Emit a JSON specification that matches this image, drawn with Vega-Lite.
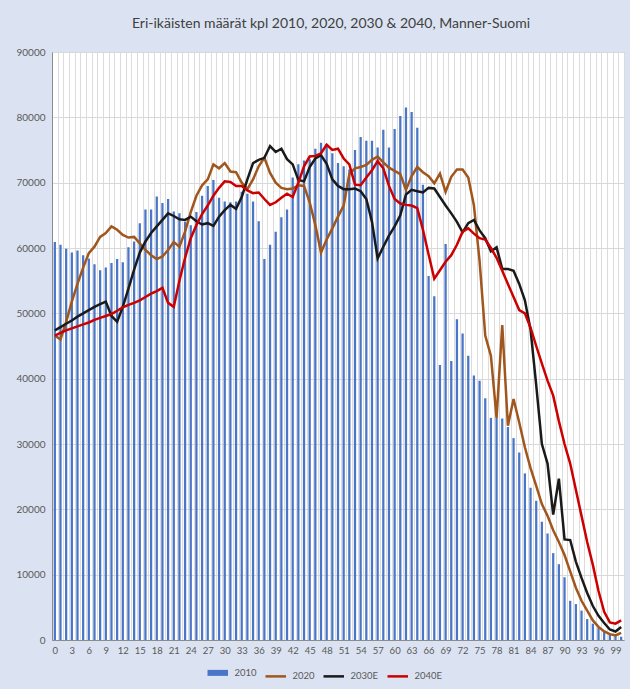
{
  "$schema": "https://vega.github.io/schema/vega-lite/v6.json",
  "width": 572,
  "height": 588,
  "autosize": {"type": "none"},
  "padding": {"left": 52, "top": 52, "right": 6, "bottom": 49},
  "background": "#dbe3f2",
  "config": {
    "view": {"stroke": "#a6a6a6", "fill": "white"},
    "font": "Lato"
  },
  "title": {
    "text": "Eri-ikäisten määrät kpl 2010, 2020, 2030 & 2040, Manner-Suomi",
    "frame": "group",
    "anchor": "middle",
    "offset": 16,
    "dx": -7,
    "font": "Lato",
    "fontSize": 14,
    "fontWeight": "normal",
    "color": "#404040"
  },
  "data": {
    "values": [
      {"age":0,"2010":60900,"2020":46600,"2030E":47400,"2040E":46600},
      {"age":1,"2010":60500,"2020":46000,"2030E":47900,"2040E":47000},
      {"age":2,"2010":59900,"2020":48700,"2030E":48400,"2040E":47400},
      {"age":3,"2010":59300,"2020":51800,"2030E":48900,"2040E":47700},
      {"age":4,"2010":59600,"2020":54500,"2030E":49500,"2040E":48000},
      {"age":5,"2010":58900,"2020":57000,"2030E":50000,"2040E":48300},
      {"age":6,"2010":58400,"2020":59200,"2030E":50500,"2040E":48600},
      {"age":7,"2010":57500,"2020":60200,"2030E":51000,"2040E":49000},
      {"age":8,"2010":56600,"2020":61700,"2030E":51400,"2040E":49300},
      {"age":9,"2010":57000,"2020":62300,"2030E":51800,"2040E":49600},
      {"age":10,"2010":57700,"2020":63300,"2030E":49600,"2040E":49900},
      {"age":11,"2010":58300,"2020":62800,"2030E":48700,"2040E":50400},
      {"age":12,"2010":57800,"2020":62000,"2030E":51000,"2040E":50900},
      {"age":13,"2010":60100,"2020":61600,"2030E":53800,"2040E":51300},
      {"age":14,"2010":61000,"2020":61700,"2030E":56700,"2040E":51600},
      {"age":15,"2010":63800,"2020":60700,"2030E":59300,"2040E":52000},
      {"age":16,"2010":65900,"2020":59700,"2030E":61000,"2040E":52500},
      {"age":17,"2010":65900,"2020":58900,"2030E":62300,"2040E":53000},
      {"age":18,"2010":67900,"2020":58300,"2030E":63300,"2040E":53400},
      {"age":19,"2010":66900,"2020":58700,"2030E":64300,"2040E":53900},
      {"age":20,"2010":67500,"2020":59700,"2030E":65300,"2040E":51600},
      {"age":21,"2010":65600,"2020":60900,"2030E":64900,"2040E":51000},
      {"age":22,"2010":65300,"2020":60200,"2030E":64400,"2040E":55000},
      {"age":23,"2010":64000,"2020":62500,"2030E":64300,"2040E":58500},
      {"age":24,"2010":63500,"2020":65500,"2030E":64800,"2040E":61500},
      {"age":25,"2010":65500,"2020":68000,"2030E":64100,"2040E":63500},
      {"age":26,"2010":68000,"2020":69600,"2030E":63600,"2040E":65200},
      {"age":27,"2010":69500,"2020":70500,"2030E":63800,"2040E":66500},
      {"age":28,"2010":70400,"2020":72800,"2030E":63400,"2040E":68000},
      {"age":29,"2010":67700,"2020":72200,"2030E":64800,"2040E":69200},
      {"age":30,"2010":67100,"2020":73000,"2030E":65800,"2040E":70200},
      {"age":31,"2010":67000,"2020":71700,"2030E":66600,"2040E":70100},
      {"age":32,"2010":67100,"2020":71600,"2030E":66000,"2040E":69500},
      {"age":33,"2010":68600,"2020":70000,"2030E":67800,"2040E":69500},
      {"age":34,"2010":68300,"2020":69000,"2030E":70500,"2040E":68800},
      {"age":35,"2010":67100,"2020":70500,"2030E":73000,"2040E":68400},
      {"age":36,"2010":64100,"2020":72500,"2030E":73500,"2040E":68500},
      {"age":37,"2010":58300,"2020":73800,"2030E":73800,"2040E":67500},
      {"age":38,"2010":60500,"2020":71500,"2030E":75600,"2040E":66600},
      {"age":39,"2010":62500,"2020":70000,"2030E":74700,"2040E":67000},
      {"age":40,"2010":64700,"2020":69200,"2030E":75200,"2040E":67700},
      {"age":41,"2010":65900,"2020":69000,"2030E":73600,"2040E":68300},
      {"age":42,"2010":70800,"2020":69100,"2030E":72800,"2040E":67800},
      {"age":43,"2010":72800,"2020":69600,"2030E":70400,"2040E":70000},
      {"age":44,"2010":73400,"2020":69500,"2030E":70200,"2040E":72500},
      {"age":45,"2010":73600,"2020":67000,"2030E":72400,"2040E":74000},
      {"age":46,"2010":75200,"2020":63500,"2030E":73700,"2040E":74100},
      {"age":47,"2010":76100,"2020":59300,"2030E":74200,"2040E":74500},
      {"age":48,"2010":75900,"2020":61300,"2030E":72900,"2040E":75800},
      {"age":49,"2010":74500,"2020":63000,"2030E":70500,"2040E":75000},
      {"age":50,"2010":73000,"2020":64800,"2030E":69500,"2040E":75200},
      {"age":51,"2010":72500,"2020":66500,"2030E":69000,"2040E":73700},
      {"age":52,"2010":72000,"2020":71300,"2030E":69000,"2040E":72800},
      {"age":53,"2010":75000,"2020":72200,"2030E":69100,"2040E":69700},
      {"age":54,"2010":77000,"2020":72400,"2030E":68700,"2040E":69600},
      {"age":55,"2010":76400,"2020":72700,"2030E":67500,"2040E":70800},
      {"age":56,"2010":76400,"2020":73500,"2030E":64000,"2040E":71900},
      {"age":57,"2010":75400,"2020":74000,"2030E":58400,"2040E":73300},
      {"age":58,"2010":78100,"2020":73100,"2030E":60200,"2040E":72200},
      {"age":59,"2010":75400,"2020":72300,"2030E":61900,"2040E":69500},
      {"age":60,"2010":78200,"2020":71800,"2030E":63300,"2040E":67500},
      {"age":61,"2010":80200,"2020":71300,"2030E":65000,"2040E":66800},
      {"age":62,"2010":81500,"2020":68900,"2030E":68200,"2040E":66600},
      {"age":63,"2010":80800,"2020":71000,"2030E":68900,"2040E":66500},
      {"age":64,"2010":78400,"2020":72400,"2030E":68700,"2040E":66100},
      {"age":65,"2010":69700,"2020":71600,"2030E":68500,"2040E":62800},
      {"age":66,"2010":55700,"2020":71000,"2030E":69200,"2040E":59000},
      {"age":67,"2010":52600,"2020":69900,"2030E":69100,"2040E":55300},
      {"age":68,"2010":42100,"2020":71400,"2030E":67800,"2040E":56600},
      {"age":69,"2010":60600,"2020":68600,"2030E":66500,"2040E":57900},
      {"age":70,"2010":42700,"2020":70900,"2030E":65300,"2040E":58900},
      {"age":71,"2010":49100,"2020":72000,"2030E":64000,"2040E":60500},
      {"age":72,"2010":46900,"2020":72000,"2030E":62400,"2040E":62500},
      {"age":73,"2010":43500,"2020":70800,"2030E":63800,"2040E":63000},
      {"age":74,"2010":40500,"2020":66500,"2030E":64300,"2040E":62200},
      {"age":75,"2010":39700,"2020":58000,"2030E":62700,"2040E":61500},
      {"age":76,"2010":37000,"2020":46600,"2030E":61500,"2040E":61300},
      {"age":77,"2010":34000,"2020":43500,"2030E":59500,"2040E":60000},
      {"age":78,"2010":34000,"2020":34000,"2030E":60100,"2040E":58500},
      {"age":79,"2010":33900,"2020":48200,"2030E":56800,"2040E":56500},
      {"age":80,"2010":32600,"2020":32800,"2030E":56800,"2040E":54500},
      {"age":81,"2010":30900,"2020":36900,"2030E":56500,"2040E":52500},
      {"age":82,"2010":28700,"2020":33300,"2030E":54500,"2040E":50500},
      {"age":83,"2010":25500,"2020":29500,"2030E":52000,"2040E":50000},
      {"age":84,"2010":23300,"2020":26300,"2030E":47500,"2040E":47800},
      {"age":85,"2010":21300,"2020":23600,"2030E":39000,"2040E":45000},
      {"age":86,"2010":18100,"2020":20800,"2030E":30000,"2040E":42300},
      {"age":87,"2010":16300,"2020":19000,"2030E":27000,"2040E":39700},
      {"age":88,"2010":13300,"2020":16800,"2030E":19200,"2040E":37400},
      {"age":89,"2010":11600,"2020":15000,"2030E":24700,"2040E":33500},
      {"age":90,"2010":9600,"2020":13000,"2030E":15400,"2040E":30000},
      {"age":91,"2010":6000,"2020":10500,"2030E":15300,"2040E":27000},
      {"age":92,"2010":5500,"2020":8000,"2030E":12000,"2040E":23000},
      {"age":93,"2010":4500,"2020":6000,"2030E":9500,"2040E":19000},
      {"age":94,"2010":3200,"2020":4500,"2030E":7200,"2040E":15000},
      {"age":95,"2010":2500,"2020":3000,"2030E":5200,"2040E":11500},
      {"age":96,"2010":1900,"2020":2000,"2030E":3700,"2040E":7500},
      {"age":97,"2010":1300,"2020":1300,"2030E":2600,"2040E":4300},
      {"age":98,"2010":900,"2020":900,"2030E":1600,"2040E":2700},
      {"age":99,"2010":600,"2020":700,"2030E":1300,"2040E":2500},
      {"age":100,"2010":500,"2020":1100,"2030E":2000,"2040E":3000}
    ]
  },
  "encoding": {
    "x": {
      "field": "age",
      "type": "ordinal",
      "scale": {"paddingInner": 0, "paddingOuter": 0},
      "axis": {
        "title": null,
        "tickBand": "extent",
        "grid": true,
        "gridColor": "#dcdcdc",
        "ticks": false,
        "domainColor": "#8c8c8c",
        "labelAngle": 0,
        "labelExpr": "datum.value % 3 === 0 ? datum.label : ''",
        "labelFont": "Lato",
        "labelFontSize": 9.5,
        "labelColor": "#595959",
        "labelPadding": 5,
        "labelOverlap": false
      }
    }
  },
  "layer": [
    {
      "mark": {"type": "bar", "width": {"band": 0.4}},
      "encoding": {
        "y": {
          "field": "2010",
          "type": "quantitative",
          "scale": {"domain": [0, 90000], "nice": false},
          "axis": {
            "title": null,
            "values": [0, 10000, 20000, 30000, 40000, 50000, 60000, 70000, 80000, 90000],
            "format": "d",
            "grid": true,
            "gridColor": "#d9d9d9",
            "ticks": false,
            "domainColor": "#8c8c8c",
            "labelFont": "Lato",
            "labelFontSize": 10,
            "labelColor": "#595959",
            "labelPadding": 7
          }
        },
        "color": {
          "datum": "2010",
          "type": "nominal",
          "scale": {
            "domain": ["2010", "2020", "2030E", "2040E"],
            "range": ["#4a76c8", "#a0561c", "#1a1a1a", "#cc0000"]
          },
          "legend": {
            "title": null,
            "orient": "none",
            "legendX": 161,
            "legendY": 616,
            "direction": "horizontal",
            "symbolType": "stroke",
            "symbolSize": 420,
            "symbolStrokeWidth": 2.5,
            "labelOffset": 12,
            "labelFont": "Lato",
            "labelFontSize": 9.5,
            "labelColor": "#595959",
            "columnPadding": 3,
            "encode": {
              "symbols": {
                "update": {
                  "strokeWidth": {"signal": "datum.label === '2010' ? 6 : 2.5"},
                  "stroke": {"scale": "color", "field": "value"}
                }
              }
            }
          }
        }
      }
    },
    {
      "transform": [{"fold": ["2020", "2030E", "2040E"], "as": ["series", "value"]}],
      "mark": {"type": "line", "strokeWidth": 2.5},
      "encoding": {
        "y": {"field": "value", "type": "quantitative"},
        "color": {
          "field": "series",
          "type": "nominal",
          "legend": {
            "title": null,
            "orient": "none",
            "legendX": 161,
            "legendY": 616,
            "direction": "horizontal",
            "symbolType": "stroke",
            "symbolSize": 420,
            "symbolStrokeWidth": 2.5,
            "labelOffset": 12,
            "labelFont": "Lato",
            "labelFontSize": 9.5,
            "labelColor": "#595959",
            "columnPadding": 3,
            "encode": {
              "symbols": {
                "update": {
                  "strokeWidth": {"signal": "datum.label === '2010' ? 6 : 2.5"},
                  "stroke": {"scale": "color", "field": "value"}
                }
              }
            }
          }
        }
      }
    }
  ]
}
